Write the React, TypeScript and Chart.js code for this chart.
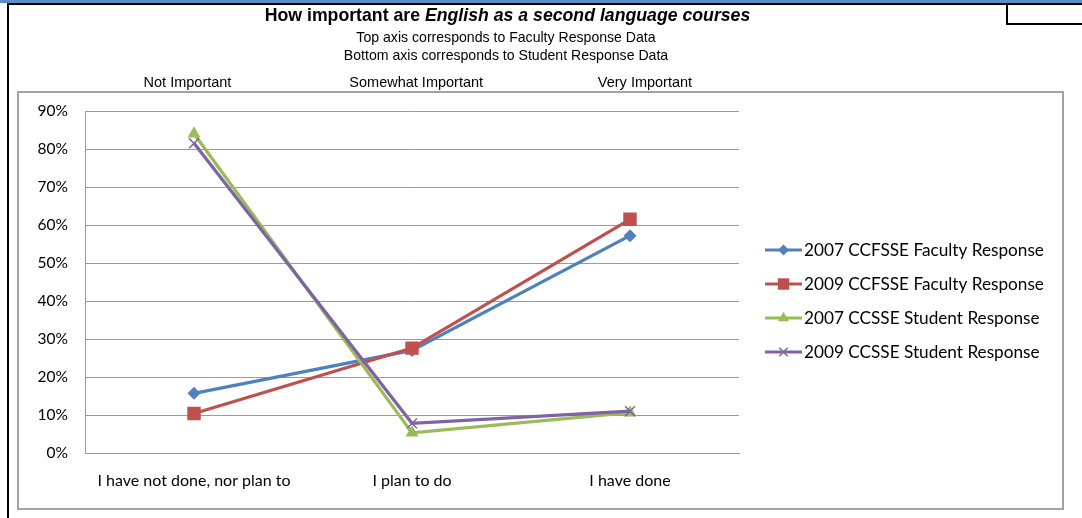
import React, { useEffect, useRef } from "react";
import { Chart, registerables } from "chart.js";

Chart.register(...registerables);

// ---------- data ----------
const CATEGORIES = ["I have not done, nor plan to", "I plan to do", "I have done"];
const TOP_LABELS = ["Not Important", "Somewhat Important", "Very Important"];
const SERIES_NAMES = [
  "2007 CCFSSE Faculty Response",
  "2009 CCFSSE Faculty Response",
  "2007 CCSSE Student Response",
  "2009 CCSSE Student Response",
];
const FAC_2007 = [15.7, 27.0, 57.2];
const FAC_2009 = [10.4, 27.6, 61.5];
const STU_2007 = [84.0, 5.3, 10.6];
const STU_2009 = [81.5, 7.8, 11.0];
const Y_MIN = 0;
const Y_MAX = 90;
const Y_STEP = 10;

const TITLE_PLAIN = "How important are ";
const TITLE_ITALIC = "English as a second language courses";
const SUBTITLE_1 = "Top axis corresponds to Faculty Response Data";
const SUBTITLE_2 = "Bottom axis corresponds to Student Response Data";

// ---------- styles ----------
const W = 1082;
const H = 518;
const COLORS = ["#4F81BD", "#C0504D", "#9BBB59", "#8064A2"];
const POINT_STYLES = ["rectRot", "rect", "triangle", "crossRot"];
const POINT_RADII = [6.5, 9.5, 7.5, 7];
const GRID = "#9a9a9a";
const ARIAL = "'Liberation Sans', Arial, sans-serif";
const CALIBRI = "Lato, 'Open Sans', sans-serif";

function drawMarker(ctx: CanvasRenderingContext2D, style: string, x: number, y: number, r: number, color: string) {
  ctx.save();
  ctx.fillStyle = color;
  ctx.strokeStyle = color;
  ctx.lineWidth = 1.5;
  ctx.beginPath();
  if (style === "rectRot") {
    ctx.moveTo(x, y - r);
    ctx.lineTo(x + r, y);
    ctx.lineTo(x, y + r);
    ctx.lineTo(x - r, y);
    ctx.closePath();
    ctx.fill();
  } else if (style === "rect") {
    const s = r * Math.SQRT1_2;
    ctx.rect(x - s, y - s, 2 * s, 2 * s);
    ctx.fill();
  } else if (style === "triangle") {
    const h = r * 1.5;
    ctx.moveTo(x, y - h * 0.66);
    ctx.lineTo(x + r * 0.87, y + h * 0.34);
    ctx.lineTo(x - r * 0.87, y + h * 0.34);
    ctx.closePath();
    ctx.fill();
  } else {
    const s = r * Math.SQRT1_2;
    ctx.moveTo(x - s, y - s);
    ctx.lineTo(x + s, y + s);
    ctx.moveTo(x + s, y - s);
    ctx.lineTo(x - s, y + s);
    ctx.stroke();
  }
  ctx.restore();
}

const decorPlugin = {
  id: "decor",
  beforeDraw(chart: any) {
    const ctx: CanvasRenderingContext2D = chart.ctx;
    ctx.save();
    ctx.fillStyle = "#ffffff";
    ctx.fillRect(0, 0, W, H);
    // page decorations
    ctx.fillStyle = "#5b8ccc";
    ctx.fillRect(0, 0, W, 3);
    ctx.fillStyle = "#000000";
    ctx.fillRect(7, 3, W - 7, 2);
    ctx.fillRect(7, 3, 2, H - 3);
    ctx.fillRect(1006, 3, 2, 22);
    ctx.fillRect(1006, 23, W - 1006, 2);
    // chart frame
    ctx.strokeStyle = "#a3a3a3";
    ctx.lineWidth = 2;
    ctx.strokeRect(18, 92, 1045, 417);
    // title
    ctx.fillStyle = "#000";
    ctx.textBaseline = "middle";
    ctx.textAlign = "left";
    const fPlain = `bold 17.7px ${ARIAL}`;
    const fItal = `italic bold 17.7px ${ARIAL}`;
    ctx.font = fPlain;
    const w1 = ctx.measureText(TITLE_PLAIN).width;
    ctx.font = fItal;
    const w2 = ctx.measureText(TITLE_ITALIC).width;
    const cx = 507.5;
    const x0 = cx - (w1 + w2) / 2;
    ctx.font = fPlain;
    ctx.fillText(TITLE_PLAIN, x0, 16);
    ctx.font = fItal;
    ctx.fillText(TITLE_ITALIC, x0 + w1, 16);
    ctx.font = `14.1px ${ARIAL}`;
    ctx.textAlign = "center";
    ctx.fillText(SUBTITLE_1, 506, 38);
    ctx.fillText(SUBTITLE_2, 506, 56);
    ctx.restore();
  },
  afterDraw(chart: any) {
    const ctx: CanvasRenderingContext2D = chart.ctx;
    ctx.save();
    const rows = [250, 284, 318, 352];
    SERIES_NAMES.forEach((name, i) => {
      const y = rows[i];
      ctx.strokeStyle = COLORS[i];
      ctx.lineWidth = 3;
      ctx.beginPath();
      ctx.moveTo(765, y);
      ctx.lineTo(802, y);
      ctx.stroke();
      drawMarker(ctx, POINT_STYLES[i], 783.5, y, POINT_RADII[i] * 0.85, COLORS[i]);
      ctx.fillStyle = "#000";
      ctx.font = `17.2px ${CALIBRI}`;
      ctx.textAlign = "left";
      ctx.textBaseline = "middle";
      ctx.fillText(name, 804, y);
    });
    ctx.restore();
  },
};

export default function App() {
  const ref = useRef<HTMLCanvasElement>(null);

  useEffect(() => {
    if (!ref.current) return;
    const seriesData = [FAC_2007, FAC_2009, STU_2007, STU_2009];
    const chart = new Chart(ref.current, {
      type: "line",
      data: {
        labels: CATEGORIES,
        datasets: seriesData.map((d, i) => ({
          label: SERIES_NAMES[i],
          data: d,
          borderColor: COLORS[i],
          backgroundColor: COLORS[i],
          pointBackgroundColor: COLORS[i],
          pointBorderColor: COLORS[i],
          pointStyle: POINT_STYLES[i] as any,
          pointRadius: POINT_RADII[i],
          pointBorderWidth: i === 3 ? 1.5 : 0,
          borderWidth: 3.25,
          tension: 0,
          order: 4 - i,
          xAxisID: "x",
          yAxisID: "y",
        })),
      },
      options: {
        responsive: false,
        animation: false,
        devicePixelRatio: 1,
        layout: { padding: { left: 20, right: W - 739, top: 70, bottom: 20 } },
        plugins: {
          legend: { display: false },
          title: { display: false },
          tooltip: { enabled: false },
        },
        scales: {
          x: {
            type: "category",
            position: "bottom",
            offset: true,
            grid: { display: false, drawTicks: false },
            border: { display: true, color: GRID, width: 1 },
            ticks: {
              color: "#000",
              font: { family: CALIBRI, size: 16 },
              padding: 18,
              maxRotation: 0,
              autoSkip: false,
            },
            afterFit: (s: any) => {
              s.height = 45;
            },
          },
          x2: {
            type: "linear",
            position: "top",
            min: -0.448,
            max: 2.411,
            grid: { display: false, drawTicks: false },
            border: { display: false },
            afterBuildTicks: (s: any) => {
              s.ticks = TOP_LABELS.map((_, i) => ({ value: i }));
            },
            ticks: {
              color: "#000",
              font: { family: ARIAL, size: 14.5 },
              padding: 19,
              maxRotation: 0,
              autoSkip: false,
              callback: (v: any) => TOP_LABELS[v as number] ?? "",
            },
            afterFit: (s: any) => {
              s.height = 41;
            },
          },
          y: {
            type: "linear",
            min: Y_MIN,
            max: Y_MAX,
            ticks: {
              stepSize: Y_STEP,
              color: "#000",
              font: { family: CALIBRI, size: 15.5 },
              padding: 17,
              callback: (v: any) => `${v}%`,
            },
            grid: { color: GRID, lineWidth: 1, drawTicks: false },
            border: { display: true, color: GRID, width: 1 },
            afterFit: (s: any) => {
              s.width = 65;
            },
          },
        },
      },
      plugins: [decorPlugin],
    });
    return () => chart.destroy();
  }, []);

  return (
    <div style={{ position: "fixed", left: 0, top: 0, width: W, height: H, background: "#fff" }}>
      <canvas ref={ref} width={W} height={H} style={{ display: "block", width: W, height: H }} />
    </div>
  );
}
